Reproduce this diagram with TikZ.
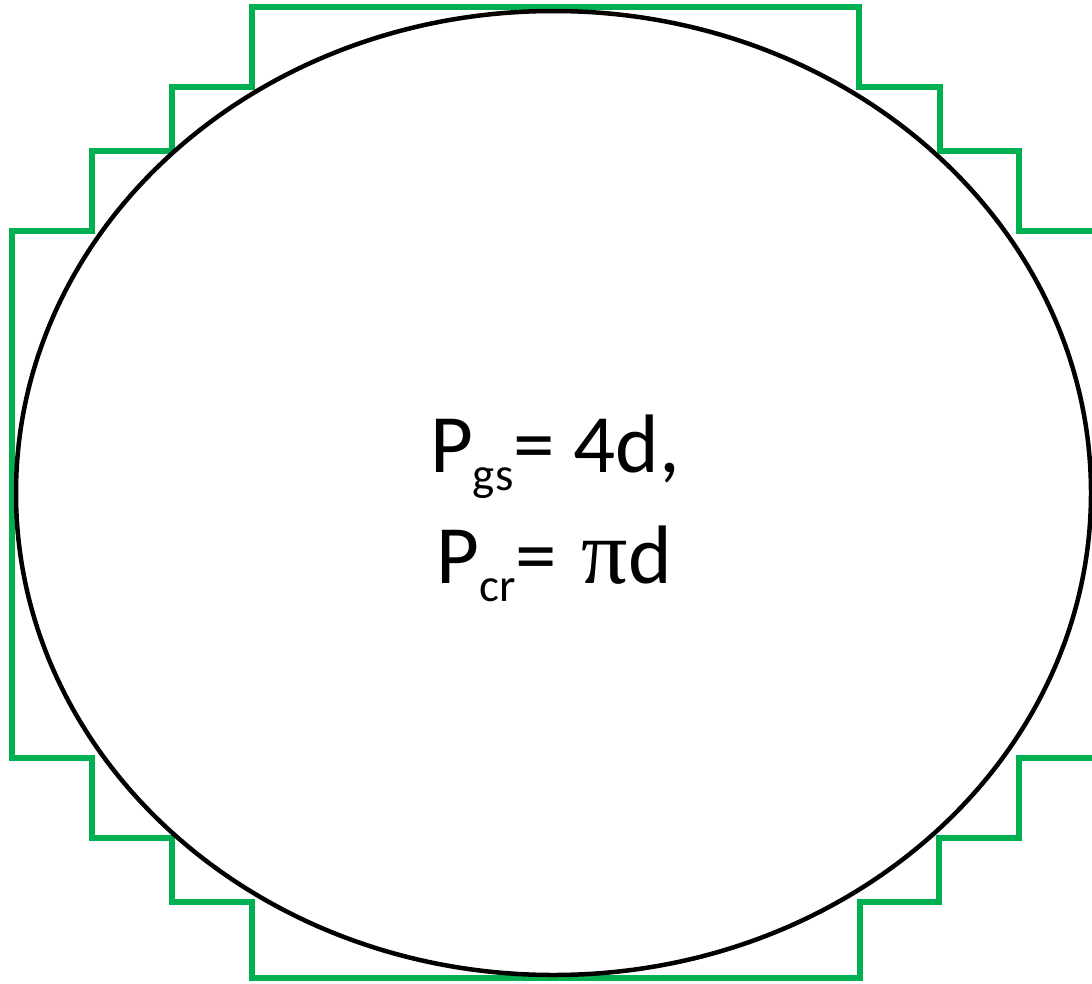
\documentclass[tikz,border=0pt]{standalone}
\usepackage{fontspec}
\setmainfont{Carlito}
\newfontfamily\pifont{Liberation Serif}
\definecolor{officegreen}{HTML}{00B050}
\begin{document}
\begin{tikzpicture}[x=1pt,y=-1pt,
  stairs/.style={draw=officegreen,line width=5.5pt,line join=miter},
  outline/.style={draw=black,line width=4.5pt},
  formula/.style={anchor=base,inner sep=0pt,font=\fontsize{83}{100}\selectfont}]
\useasboundingbox (0,0) rectangle (1092,983);
\clip (0,0) rectangle (1092,983);
\draw[stairs] (252,7) -- (859,7) -- (859,87) -- (940,87) -- (940,151) -- (1019,151)
  -- (1019,231) -- (1100,231) -- (1100,758) -- (1019,758) -- (1019,838) -- (939,838)
  -- (939,902) -- (860,902) -- (860,978) -- (252,978) -- (252,902) -- (172,902)
  -- (172,838) -- (92,838) -- (92,758) -- (12,758) -- (12,231) -- (92,231)
  -- (92,151) -- (172,151) -- (172,87) -- (252,87) -- cycle;
\draw[outline] (553.5,493) ellipse [x radius=537.5pt, y radius=482pt];
\node[formula] (pgs) at (555,472) {P\raisebox{-18pt}{\fontsize{47}{50}\selectfont gs}= 4d,};
\node[formula] (pcr) at (554,583) {P\raisebox{-18pt}{\fontsize{47}{50}\selectfont cr}=\hspace{0.3em}{\pifont\fontsize{92}{100}\selectfont π}d};
\end{tikzpicture}
\end{document}
